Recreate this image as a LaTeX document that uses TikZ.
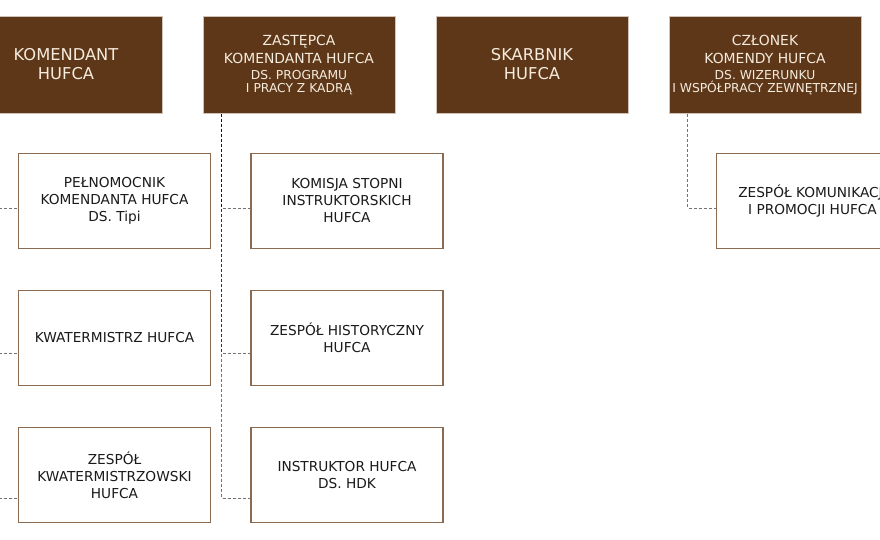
\documentclass[tikz,border=0pt]{standalone}
\usepackage{fontspec}
\setmainfont{DejaVu Sans}
\definecolor{hbrown}{HTML}{5E3719}
\definecolor{hedge}{HTML}{8C6A4F}
\definecolor{hcream}{HTML}{F5ECDD}
\definecolor{htext}{HTML}{1A1A1A}
\newcommand\subline{\fontsize{12.3}{16}\selectfont}
\begin{document}
\begin{tikzpicture}[x=1pt,y=-1pt,
  head/.style={draw=hedge!40,line width=0.6pt,fill=hbrown,text=hcream,minimum width=192pt,minimum height=97pt,align=center,inner sep=0pt,font=\fontsize{13.9}{16}\selectfont},
  unit/.style={draw=hedge,line width=1.4pt,fill=white,text=htext,minimum width=192pt,minimum height=95pt,align=center,inner sep=0pt,font=\fontsize{13.7}{17}\selectfont},
  link/.style={draw=black,opacity=0.55,line width=1pt,dash pattern=on 3pt off 2pt},
  big/.style={font=\fontsize{16.3}{19}\selectfont}]
\useasboundingbox (0,0) rectangle (880,540);
\node[head,big] (kom) at (66,64.5) {KOMENDANT\\HUFCA};
\node[head] (zast) at (299,65) {ZASTĘPCA\\[2pt]KOMENDANTA HUFCA\\\subline DS. PROGRAMU\\[-3pt]\subline I PRACY Z KADRĄ};
\node[head,big] (skarb) at (532,64.5) {SKARBNIK\\HUFCA};
\node[head] (czl) at (765,65) {CZŁONEK\\[2pt]KOMENDY HUFCA\\\subline DS. WIZERUNKU\\[-3pt]\subline I WSPÓŁPRACY ZEWNĘTRZNEJ};
\node[unit] (pel) at (114.5,201) {PEŁNOMOCNIK\\KOMENDANTA HUFCA\\DS. Tipi};
\node[unit] (kwat) at (114.5,338) {KWATERMISTRZ HUFCA};
\node[unit] (zkwat) at (114.5,475) {ZESPÓŁ\\KWATERMISTRZOWSKI\\HUFCA};
\node[unit] (kom-st) at (347,201) {KOMISJA STOPNI\\INSTRUKTORSKICH\\HUFCA};
\node[unit] (hist) at (347,338) {ZESPÓŁ HISTORYCZNY\\HUFCA};
\node[unit] (hdk) at (347,475) {INSTRUKTOR HUFCA\\DS. HDK};
\node[unit] (prom) at (812.5,201) {ZESPÓŁ KOMUNIKACJI\\I PROMOCJI HUFCA};
\draw[link] ([xshift=19pt]kom.south west) |- ([yshift=-7pt]pel.west);
\draw[link] ([xshift=19pt]kom.south west) |- ([yshift=-15pt]kwat.west);
\draw[link] ([xshift=19pt]kom.south west) |- ([yshift=-23pt]zkwat.west);
\draw[link] ([xshift=19pt]zast.south west) |- ([yshift=-7pt]kom-st.west);
\draw[link] ([xshift=19pt]zast.south west) |- ([yshift=-15pt]hist.west);
\draw[link] ([xshift=19pt]zast.south west) |- ([yshift=-23pt]hdk.west);
\draw[link] ([xshift=19pt]czl.south west) |- ([yshift=-7pt]prom.west);
\end{tikzpicture}
\end{document}
